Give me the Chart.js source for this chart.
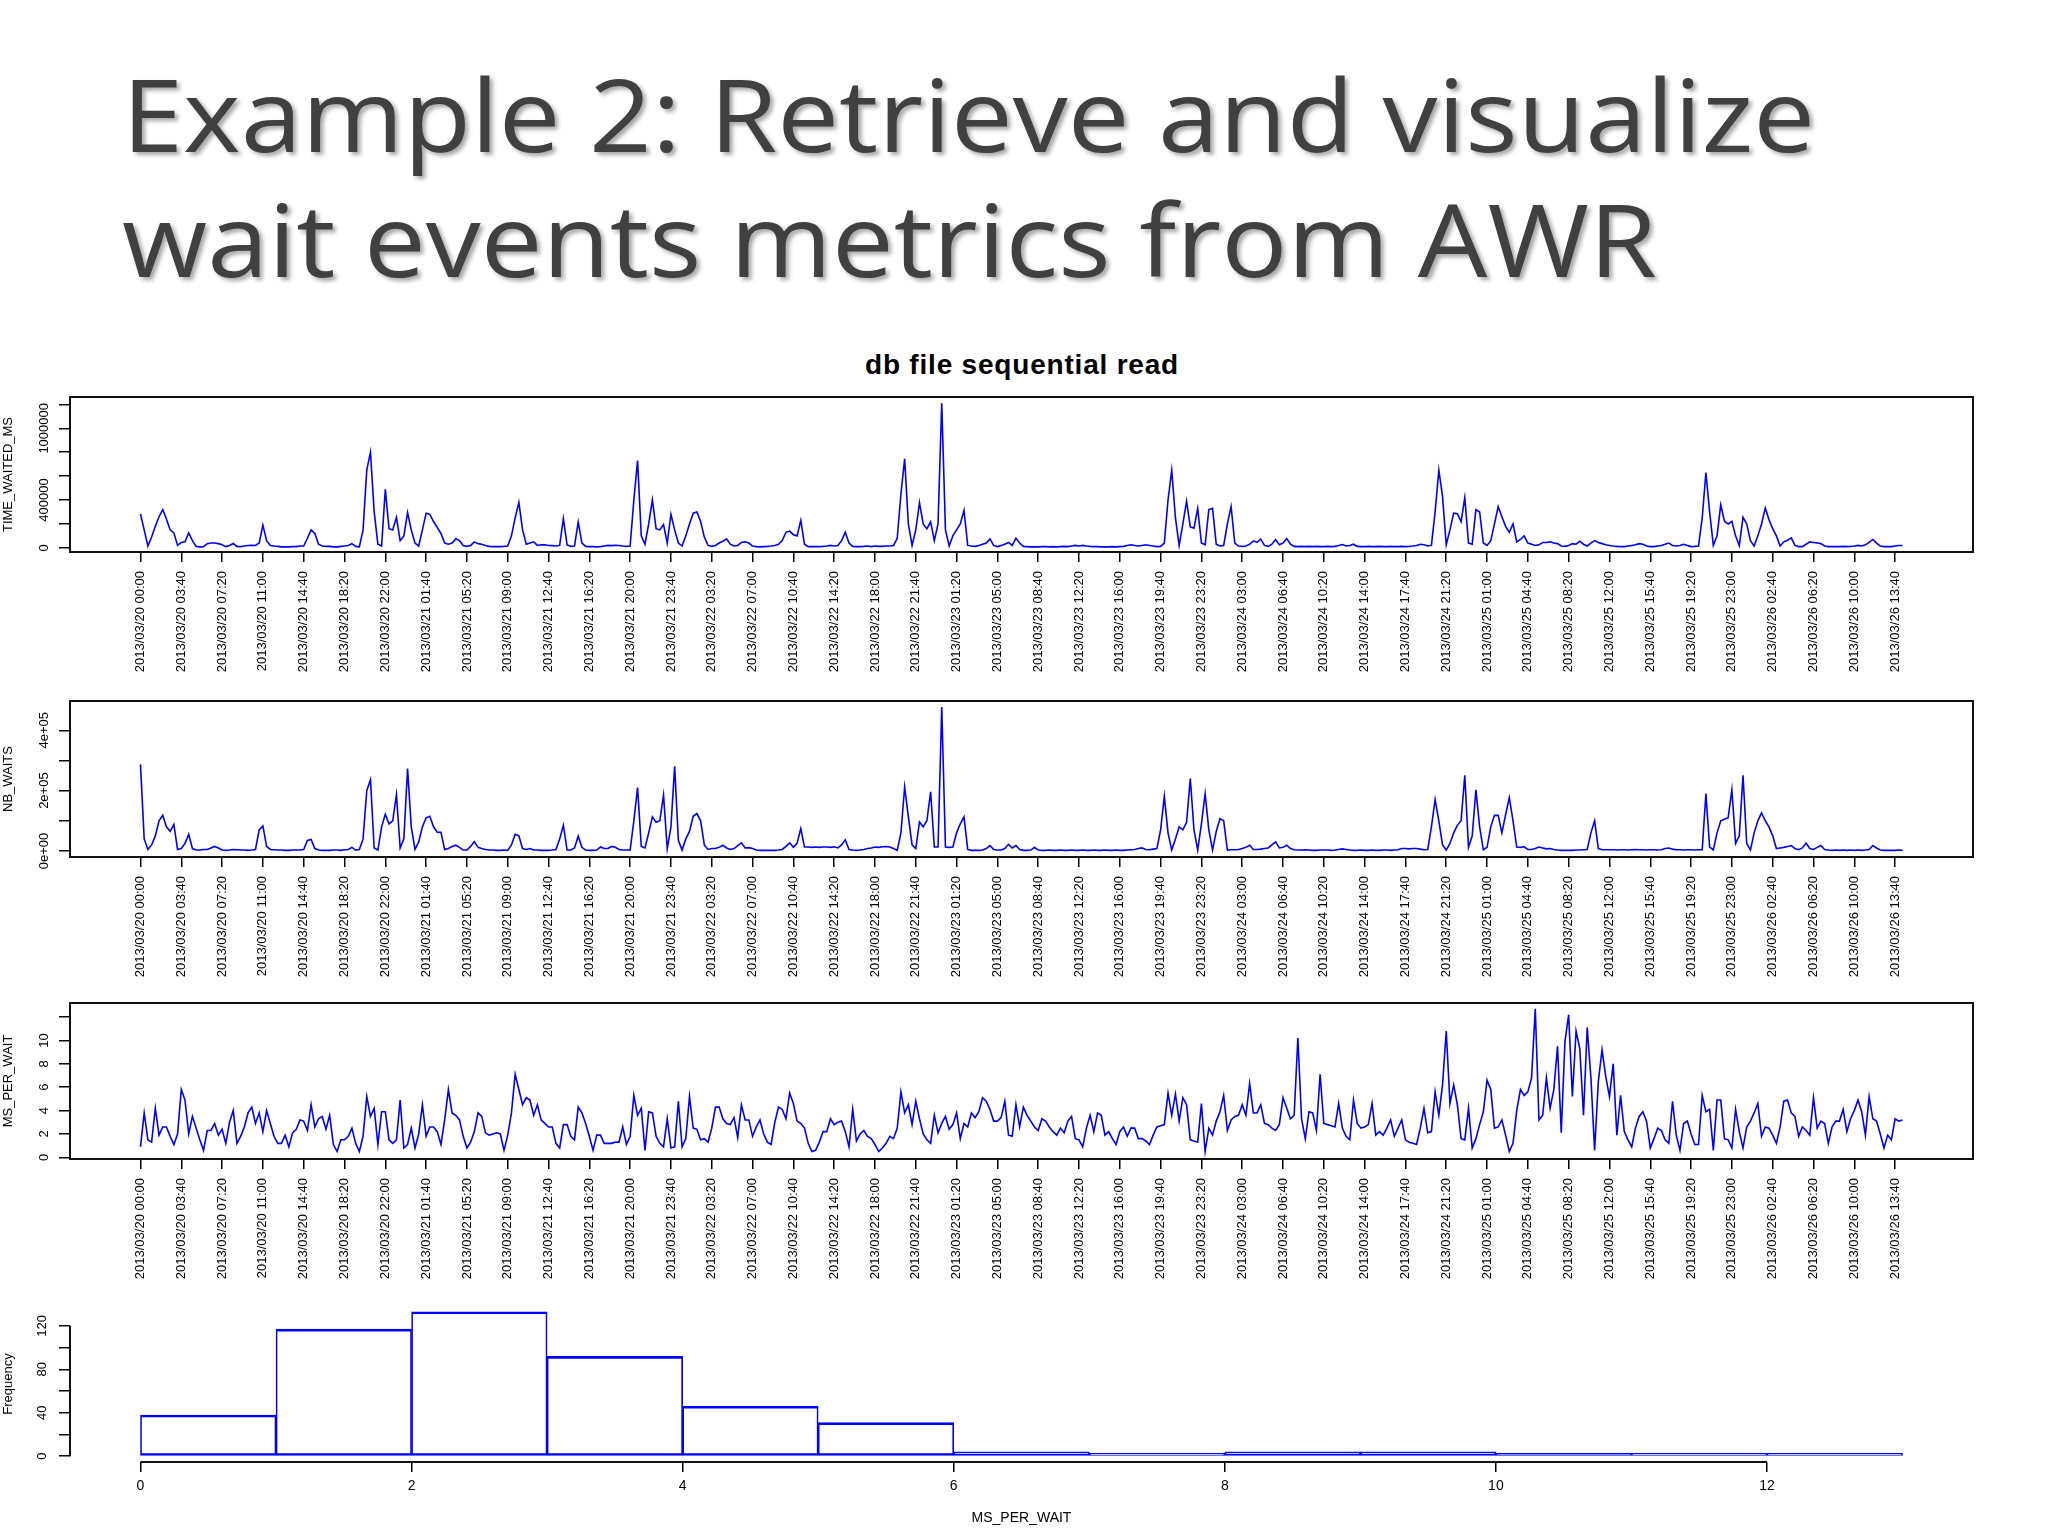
<!DOCTYPE html>
<html>
<head>
<meta charset="utf-8">
<script src="https://cdn.jsdelivr.net/npm/chart.js@4.4.0/dist/chart.umd.min.js"></script>
<style>
  html, body { margin: 0; padding: 0; background: #fff; }
  body { width: 2048px; height: 1536px; position: relative; overflow: hidden; font-family: "Liberation Sans", Arial, sans-serif; }
  .slide-title { position: absolute; left: 122px; font-family: "Open Sans", sans-serif; font-size: 100px; line-height: 1; color: #404040; text-shadow: 3px 3px 4px rgba(0,0,0,0.35); white-space: nowrap; transform: scaleX(1.1); transform-origin: 0 0; }
  #t1 { top: 63px; }
  #t2 { top: 188px; }
  #plotTitle { position: absolute; left: 0; width: 2044px; top: 349px; text-align: center; font-weight: bold; font-size: 28px; color: #000; letter-spacing: 0.8px; }
  canvas { position: absolute; left: 0; }
</style>
</head>
<body>
<div class="slide-title" id="t1">Example 2: Retrieve and visualize</div>
<div class="slide-title" id="t2">wait events metrics from AWR</div>
<div id="plotTitle">db file sequential read</div>
<canvas id="c1" width="2048" height="300" style="top:380px"></canvas>
<canvas id="c2" width="2048" height="300" style="top:684px"></canvas>
<canvas id="c3" width="2048" height="300" style="top:986px"></canvas>
<canvas id="c4" width="2048" height="246" style="top:1290px"></canvas>
<script>
// AWR snapshots, one every 20 minutes, 2013/03/20 00:00 .. 2013/03/26 14:20
const tickLabels = [
  "2013/03/20 00:00", "2013/03/20 03:40", "2013/03/20 07:20", "2013/03/20 11:00",
  "2013/03/20 14:40", "2013/03/20 18:20", "2013/03/20 22:00", "2013/03/21 01:40",
  "2013/03/21 05:20", "2013/03/21 09:00", "2013/03/21 12:40", "2013/03/21 16:20",
  "2013/03/21 20:00", "2013/03/21 23:40", "2013/03/22 03:20", "2013/03/22 07:00",
  "2013/03/22 10:40", "2013/03/22 14:20", "2013/03/22 18:00", "2013/03/22 21:40",
  "2013/03/23 01:20", "2013/03/23 05:00", "2013/03/23 08:40", "2013/03/23 12:20",
  "2013/03/23 16:00", "2013/03/23 19:40", "2013/03/23 23:20", "2013/03/24 03:00",
  "2013/03/24 06:40", "2013/03/24 10:20", "2013/03/24 14:00", "2013/03/24 17:40",
  "2013/03/24 21:20", "2013/03/25 01:00", "2013/03/25 04:40", "2013/03/25 08:20",
  "2013/03/25 12:00", "2013/03/25 15:40", "2013/03/25 19:20", "2013/03/25 23:00",
  "2013/03/26 02:40", "2013/03/26 06:20", "2013/03/26 10:00", "2013/03/26 13:40"
];
const ticksEvery = 11; // one label every 11 snapshots (3h40)

const timeWaitedMs = [
  283000, 150000, 15000, 90000, 180000, 260000, 320000, 240000, 150000, 125000, 20000,
  45000, 50000, 125000, 60000, 12000, 8000, 10000, 35000, 40000, 40000, 35000,
  25000, 10000, 20000, 36000, 12000, 10000, 15000, 20000, 22000, 20000, 40000,
  190000, 60000, 20000, 15000, 12000, 8000, 8000, 8000, 10000, 10000, 15000,
  15000, 80000, 150000, 120000, 30000, 15000, 12000, 12000, 8000, 8000, 12000,
  15000, 20000, 35000, 12000, 8000, 150000, 650000, 800000, 300000, 30000, 15000,
  490000, 160000, 150000, 255000, 60000, 100000, 295000, 150000, 40000, 15000, 150000,
  290000, 280000, 220000, 170000, 120000, 40000, 30000, 40000, 75000, 60000, 20000,
  12000, 20000, 50000, 35000, 30000, 20000, 12000, 10000, 10000, 10000, 12000,
  15000, 100000, 250000, 380000, 150000, 30000, 40000, 50000, 20000, 25000, 25000,
  20000, 18000, 15000, 20000, 245000, 25000, 12000, 15000, 215000, 40000, 12000,
  10000, 10000, 8000, 10000, 15000, 20000, 18000, 22000, 20000, 15000, 12000,
  15000, 400000, 730000, 100000, 30000, 200000, 400000, 160000, 150000, 195000, 40000,
  280000, 150000, 40000, 15000, 100000, 200000, 290000, 300000, 220000, 90000, 20000,
  12000, 20000, 40000, 55000, 75000, 30000, 15000, 20000, 45000, 50000, 40000,
  15000, 10000, 8000, 10000, 12000, 15000, 20000, 30000, 60000, 130000, 140000,
  110000, 100000, 230000, 30000, 10000, 10000, 10000, 10000, 12000, 15000, 20000,
  15000, 20000, 60000, 130000, 40000, 12000, 10000, 10000, 12000, 15000, 10000,
  15000, 12000, 12000, 15000, 15000, 20000, 80000, 450000, 745000, 200000, 20000,
  150000, 378000, 200000, 160000, 217000, 60000, 200000, 1210000, 150000, 15000, 100000,
  150000, 200000, 314000, 20000, 15000, 12000, 20000, 30000, 40000, 75000, 20000,
  10000, 20000, 30000, 45000, 20000, 80000, 40000, 12000, 10000, 8000, 8000,
  8000, 10000, 10000, 8000, 10000, 8000, 10000, 12000, 10000, 15000, 20000,
  15000, 20000, 15000, 12000, 10000, 10000, 8000, 8000, 8000, 10000, 8000,
  10000, 12000, 20000, 25000, 20000, 15000, 20000, 25000, 20000, 15000, 10000,
  12000, 40000, 400000, 650000, 250000, 20000, 200000, 390000, 175000, 165000, 330000,
  40000, 25000, 320000, 330000, 30000, 15000, 20000, 200000, 345000, 40000, 15000,
  12000, 15000, 30000, 58000, 45000, 72000, 20000, 12000, 30000, 69000, 25000,
  40000, 78000, 30000, 12000, 10000, 12000, 10000, 12000, 10000, 12000, 10000,
  10000, 12000, 10000, 12000, 20000, 28000, 15000, 20000, 30000, 12000, 10000,
  10000, 12000, 10000, 10000, 12000, 10000, 10000, 12000, 10000, 10000, 12000,
  10000, 12000, 15000, 20000, 30000, 25000, 15000, 20000, 300000, 650000, 430000,
  25000, 150000, 290000, 285000, 220000, 420000, 40000, 30000, 320000, 300000, 40000,
  20000, 60000, 200000, 345000, 260000, 180000, 130000, 200000, 50000, 70000, 100000,
  40000, 30000, 20000, 25000, 45000, 45000, 50000, 40000, 35000, 15000, 12000,
  20000, 35000, 30000, 55000, 30000, 15000, 40000, 60000, 45000, 35000, 25000,
  20000, 15000, 12000, 10000, 10000, 15000, 20000, 25000, 35000, 30000, 15000,
  10000, 10000, 15000, 20000, 30000, 40000, 20000, 15000, 20000, 30000, 20000,
  10000, 12000, 15000, 250000, 630000, 300000, 20000, 100000, 360000, 222000, 200000,
  222000, 100000, 20000, 255000, 200000, 60000, 15000, 100000, 200000, 333000, 236000,
  160000, 100000, 15000, 50000, 64000, 83000, 20000, 10000, 10000, 30000, 50000,
  45000, 40000, 35000, 15000, 10000, 10000, 10000, 10000, 12000, 10000, 12000,
  15000, 20000, 15000, 25000, 45000, 70000, 40000, 15000, 10000, 10000, 10000,
  15000, 20000, 20000
];

const nbWaits = [
  287000, 40000, 5000, 20000, 50000, 100000, 118000, 80000, 65000, 88000, 5000,
  8000, 25000, 55000, 8000, 3000, 3000, 5000, 5000, 10000, 15000, 10000,
  3000, 2000, 3000, 5000, 4000, 3000, 3000, 2000, 3000, 5000, 70000,
  83000, 15000, 5000, 4000, 3000, 3000, 2000, 2000, 3000, 3000, 3000,
  5000, 35000, 38000, 8000, 3000, 2000, 2000, 2000, 3000, 3000, 2000,
  4000, 5000, 12000, 3000, 5000, 40000, 200000, 236000, 10000, 3000, 80000,
  122000, 90000, 100000, 187000, 10000, 40000, 273000, 80000, 5000, 30000, 80000,
  110000, 115000, 80000, 62000, 62000, 5000, 8000, 15000, 19000, 12000, 3000,
  3000, 15000, 31000, 12000, 8000, 5000, 3000, 3000, 2000, 2000, 3000,
  2000, 20000, 55000, 50000, 8000, 5000, 8000, 3000, 3000, 2000, 2000,
  2000, 3000, 5000, 40000, 85000, 3000, 3000, 10000, 49000, 12000, 3000,
  2000, 2000, 3000, 13000, 8000, 8000, 15000, 12000, 5000, 3000, 3000,
  3000, 100000, 210000, 15000, 10000, 60000, 113000, 95000, 100000, 185000, 8000,
  80000, 281000, 35000, 3000, 40000, 65000, 115000, 124000, 100000, 20000, 5000,
  8000, 8000, 12000, 19000, 10000, 5000, 8000, 18000, 27000, 10000, 11000,
  8000, 3000, 2000, 2000, 2000, 2000, 2000, 3000, 5000, 15000, 27000,
  12000, 25000, 74000, 13000, 13000, 12000, 13000, 12000, 13000, 13000, 12000,
  14000, 10000, 20000, 37000, 5000, 3000, 2000, 3000, 5000, 8000, 10000,
  13000, 12000, 14000, 15000, 13000, 8000, 2000, 60000, 212000, 113000, 20000,
  8000, 96000, 80000, 100000, 196000, 13000, 13000, 477000, 13000, 12000, 13000,
  60000, 90000, 113000, 5000, 2000, 2000, 2000, 3000, 8000, 18000, 5000,
  3000, 3000, 8000, 22000, 10000, 18000, 5000, 2000, 2000, 3000, 12000,
  3000, 2000, 2000, 3000, 2000, 2000, 3000, 2000, 2000, 3000, 2000,
  2000, 3000, 2000, 2000, 3000, 2000, 2000, 3000, 2000, 2000, 3000,
  2000, 2000, 3000, 4000, 5000, 8000, 10000, 5000, 4000, 6000, 8000,
  70000, 181000, 60000, 3000, 40000, 80000, 70000, 95000, 240000, 70000, 3000,
  90000, 190000, 70000, 3000, 65000, 107000, 100000, 3000, 4000, 4000, 5000,
  8000, 12000, 19000, 5000, 5000, 6000, 8000, 10000, 20000, 30000, 10000,
  12000, 19000, 8000, 4000, 3000, 3000, 4000, 3000, 2000, 2000, 3000,
  3000, 3000, 2000, 3000, 5000, 7000, 5000, 3000, 2000, 2000, 3000,
  2000, 2000, 3000, 2000, 2000, 3000, 3000, 2000, 3000, 4000, 8000,
  8000, 7000, 8000, 8000, 6000, 4000, 5000, 80000, 170000, 100000, 20000,
  3000, 25000, 60000, 85000, 100000, 251000, 12000, 50000, 203000, 80000, 4000,
  12000, 80000, 118000, 118000, 60000, 120000, 177000, 100000, 13000, 12000, 14000,
  5000, 5000, 8000, 13000, 10000, 7000, 8000, 5000, 3000, 2000, 2000,
  2000, 2000, 3000, 3000, 4000, 5000, 60000, 100000, 8000, 4000, 4000,
  4000, 4000, 3000, 4000, 4000, 3000, 4000, 5000, 4000, 4000, 3000,
  4000, 4000, 3000, 4000, 8000, 10000, 6000, 4000, 4000, 3000, 4000,
  4000, 3000, 4000, 4000, 190000, 13000, 4000, 60000, 100000, 105000, 110000,
  203000, 25000, 50000, 251000, 25000, 3000, 60000, 100000, 126000, 100000, 80000,
  50000, 8000, 10000, 12000, 15000, 18000, 8000, 4000, 10000, 26000, 8000,
  5000, 12000, 18000, 5000, 3000, 2000, 3000, 2000, 3000, 2000, 3000,
  2000, 3000, 2000, 3000, 5000, 18000, 10000, 3000, 2000, 2000, 2000,
  2000, 3000, 2000
];

const msPerWait = [
  0.9, 3.8, 1.5, 1.3, 4.2, 1.9, 2.6, 2.6, 1.8, 1.1, 2.0,
  5.8, 4.9, 2.0, 3.5, 2.5, 1.5, 0.6, 2.3, 2.3, 2.9, 1.9,
  2.4, 1.2, 3.0, 4.0, 1.2, 1.8, 2.6, 3.8, 4.3, 2.9, 3.8,
  2.2, 4.0, 2.9, 1.8, 1.2, 1.2, 1.9, 0.9, 2.1, 2.4, 3.2,
  3.1, 2.3, 4.5, 2.6, 3.3, 3.5, 2.4, 3.6, 1.1, 0.5, 1.5,
  1.5, 1.8, 2.5, 1.2, 0.5, 1.8, 5.2, 3.5, 4.2, 1.1, 3.9,
  3.9, 1.5, 1.2, 1.5, 4.9, 0.8, 1.1, 2.5, 0.8, 2.0, 4.5,
  1.8, 2.6, 2.6, 2.2, 1.1, 3.2, 5.8, 3.8, 3.6, 3.2, 1.8,
  0.8, 1.3, 2.2, 3.8, 3.5, 2.1, 1.9, 2.0, 2.1, 2.0, 0.6,
  1.9, 3.8, 7.1, 5.8, 4.5, 5.1, 4.9, 3.6, 4.5, 3.2, 2.9,
  2.6, 2.6, 1.2, 0.8, 2.8, 2.8, 1.8, 1.5, 4.3, 3.8, 2.9,
  1.8, 0.6, 1.9, 1.9, 1.2, 1.2, 1.2, 1.3, 1.3, 2.6, 1.1,
  1.8, 5.3, 3.6, 4.2, 0.6, 3.9, 3.8, 1.8, 1.2, 0.9, 3.3,
  0.8, 0.9, 4.8, 0.9, 1.6, 5.2, 2.5, 2.4, 1.5, 1.6, 1.3,
  2.5, 4.3, 4.3, 3.3, 2.9, 2.8, 3.4, 1.7, 4.5, 3.2, 3.2,
  1.8, 2.6, 3.2, 2.0, 1.3, 1.1, 3.0, 4.3, 4.1, 3.3, 5.5,
  4.6, 3.1, 2.9, 2.5, 1.2, 0.5, 0.6, 1.3, 2.2, 2.2, 3.3,
  2.8, 3.0, 3.1, 2.2, 0.9, 4.1, 1.4, 2.0, 2.3, 1.8, 1.6,
  1.1, 0.5, 0.8, 1.2, 1.8, 1.6, 2.5, 5.6, 3.8, 4.5, 2.8,
  4.8, 3.3, 2.0, 1.5, 1.2, 3.6, 2.1, 2.9, 3.5, 2.4, 2.8,
  3.8, 1.6, 2.9, 2.6, 3.8, 3.4, 3.9, 5.1, 4.8, 4.1, 3.1,
  3.1, 3.4, 4.8, 1.9, 1.8, 4.5, 2.6, 4.3, 3.6, 3.1, 2.6,
  2.3, 3.3, 3.1, 2.6, 2.2, 1.9, 2.5, 2.1, 3.1, 3.5, 1.6,
  1.5, 0.9, 2.5, 3.6, 2.2, 3.8, 3.6, 1.9, 2.2, 1.6, 1.1,
  2.2, 2.6, 1.8, 2.5, 2.5, 1.6, 1.6, 1.4, 1.1, 1.9, 2.6,
  2.7, 2.8, 5.5, 3.6, 5.4, 3.1, 5.1, 4.5, 1.5, 1.4, 1.3,
  4.6, 0.5, 2.5, 1.9, 3.1, 3.9, 5.3, 2.3, 3.2, 3.5, 3.6,
  4.5, 3.6, 6.3, 3.8, 3.8, 4.5, 2.9, 2.8, 2.5, 2.3, 2.8,
  5.1, 4.2, 3.3, 3.6, 10.2, 3.3, 1.6, 3.9, 3.8, 2.3, 7.1,
  2.9, 2.8, 2.7, 2.6, 4.6, 2.5, 1.8, 1.5, 4.9, 2.9, 2.5,
  2.6, 2.8, 4.6, 1.9, 2.2, 1.9, 2.5, 3.2, 1.8, 2.5, 3.2,
  1.5, 1.3, 1.2, 1.1, 2.5, 4.2, 2.1, 2.2, 5.6, 3.6, 6.2,
  10.8, 4.6, 6.2, 4.5, 1.6, 1.5, 4.2, 0.8, 1.6, 2.8, 3.9,
  6.6, 5.8, 2.5, 2.6, 3.2, 1.9, 0.5, 1.2, 4.0, 5.8, 5.3,
  5.6, 6.8, 12.7, 3.2, 3.6, 6.8, 4.2, 5.8, 9.5, 2.1, 9.9,
  12.2, 5.2, 10.8, 9.3, 3.6, 11.1, 6.8, 0.6, 6.5, 9.2, 6.9,
  5.2, 8.0, 1.9, 5.3, 2.2, 1.5, 0.9, 2.5, 3.5, 3.9, 3.1,
  0.8, 1.6, 2.5, 2.3, 1.5, 1.2, 4.8, 1.9, 0.6, 2.9, 3.1,
  2.0, 1.1, 1.1, 5.3, 3.9, 4.1, 0.6, 4.9, 4.9, 1.6, 1.5,
  0.8, 4.1, 2.2, 0.8, 2.6, 3.1, 3.8, 4.6, 1.8, 2.6, 2.5,
  1.9, 1.2, 2.6, 4.8, 4.9, 3.8, 3.5, 1.8, 2.6, 2.3, 1.9,
  5.1, 2.5, 3.1, 2.9, 1.2, 2.6, 3.1, 3.1, 4.1, 2.2, 3.3,
  4.0, 4.9, 3.9, 1.9, 5.2, 3.3, 3.1, 2.0, 0.8, 1.9, 1.5,
  3.3, 3.1, 3.2
];

// y axis ticks (R drops labels that would overlap)
const twYTicks = [0, 200000, 400000, 600000, 800000, 1000000, 1200000];
const twYLabels = ["0", "", "400000", "", "", "1000000", ""];
const nbYTicks = [0, 100000, 200000, 300000, 400000];
const nbYLabels = ["0e+00", "", "2e+05", "", "4e+05"];
const mpwYTicks = [0, 2, 4, 6, 8, 10, 12];
const mpwYLabels = ["0", "2", "4", "6", "8", "10", ""];

// histogram of MS_PER_WAIT
const histBinEdges = [0, 1, 2, 3, 4, 5, 6, 7, 8, 9, 10, 11, 12, 13];
const histCounts = [38, 117, 133, 92, 46, 31, 4, 1, 4, 4, 3, 1, 1];
const histXTicks = [0, 2, 4, 6, 8, 10, 12];
const histYTicks = [0, 20, 40, 60, 80, 100, 120];
const histYLabels = ["0", "", "40", "", "80", "", "120"];

Chart.defaults.font.family = '"Liberation Sans", Arial, sans-serif';
Chart.defaults.color = "#000";

// R-like decorations: box, axis lines that span first..last tick, rotated y labels
const rFrame = {
  id: "rFrame",
  afterDraw(chart, args, opts) {
    const { ctx, chartArea: a, scales } = chart;
    const xs = scales.x, ys = scales.y;
    ctx.save();
    ctx.strokeStyle = "#111";
    ctx.lineWidth = 2;
    if (opts.box) {
      ctx.strokeRect(a.left, a.top, a.right - a.left, a.bottom - a.top);
    } else {
      ctx.beginPath();
      ctx.moveTo(xs.getPixelForValue(opts.xTicks[0]), a.bottom);
      ctx.lineTo(xs.getPixelForValue(opts.xTicks[opts.xTicks.length - 1]), a.bottom);
      ctx.moveTo(a.left, ys.getPixelForValue(opts.yTicks[0]));
      ctx.lineTo(a.left, ys.getPixelForValue(opts.yTicks[opts.yTicks.length - 1]));
      ctx.stroke();
    }
    ctx.fillStyle = "#000";
    ctx.font = '13px "Liberation Sans", Arial, sans-serif';
    ctx.textAlign = "center";
    ctx.textBaseline = "middle";
    opts.yLabels.forEach((lab, i) => {
      if (!lab) return;
      const py = ys.getPixelForValue(opts.yTicks[i]);
      ctx.save();
      ctx.translate(opts.labelX, py);
      ctx.rotate(-Math.PI / 2);
      ctx.fillText(lab, 0, 0);
      ctx.restore();
    });
    ctx.restore();
  }
};

function yAxis(min, max, ticks, title) {
  return {
    type: "linear",
    min: min,
    max: max,
    afterBuildTicks: s => { s.ticks = ticks.map(v => ({ value: v })); },
    afterFit: s => { s.width = 70; },
    ticks: { display: false },
    grid: { drawOnChartArea: false, drawTicks: true, tickLength: 11, color: "#000", lineWidth: 1.5 },
    border: { display: false },
    title: { display: true, text: title, font: { size: 13 }, padding: { top: 1, bottom: 0 } }
  };
}

function timePanel(id, values, yMin, yMax, yTicks, yLabels, yTitle, xHeight) {
  return new Chart(document.getElementById(id), {
    type: "line",
    data: {
      datasets: [{
        data: values.map((v, i) => ({ x: i, y: v })),
        borderColor: "#0000ff",
        borderWidth: 1.6,
        pointRadius: 0,
        tension: 0,
        fill: false
      }]
    },
    options: {
      responsive: false,
      animation: false,
      devicePixelRatio: 1,
      layout: { padding: { top: 17, right: 75, left: 0, bottom: 0 } },
      plugins: {
        legend: { display: false },
        tooltip: { enabled: false },
        rFrame: { box: true, yTicks: yTicks, yLabels: yLabels, labelX: 44 }
      },
      scales: {
        x: {
          type: "linear",
          min: -19,
          max: values.length - 1 + 19,
          afterBuildTicks: s => { s.ticks = tickLabels.map((t, i) => ({ value: i * ticksEvery })); },
          afterFit: s => { s.height = xHeight; },
          ticks: {
            autoSkip: false,
            minRotation: 90,
            maxRotation: 90,
            padding: 9,
            font: { size: 13 },
            callback: (v, i) => tickLabels[i]
          },
          grid: { drawOnChartArea: false, drawTicks: true, tickLength: 10, color: "#000", lineWidth: 1.5 },
          border: { display: false }
        },
        y: yAxis(yMin, yMax, yTicks, yTitle)
      }
    },
    plugins: [rFrame]
  });
}

timePanel("c1", timeWaitedMs, -35000, 1262000, twYTicks, twYLabels, "TIME_WAITED_MS", 128);
timePanel("c2", nbWaits, -20000, 497000, nbYTicks, nbYLabels, "NB_WAITS", 127);
timePanel("c3", msPerWait, -0.14, 13.2, mpwYTicks, mpwYLabels, "MS_PER_WAIT", 127);

new Chart(document.getElementById("c4"), {
  type: "bar",
  data: {
    datasets: [{
      data: histCounts.map((c, i) => ({ x: (histBinEdges[i] + histBinEdges[i + 1]) / 2, y: c })),
      backgroundColor: "rgba(0,0,0,0)",
      borderColor: "#0000ff",
      borderWidth: { top: 2, bottom: 2, left: 1, right: 1 },
      borderSkipped: false,
      minBarLength: 3,
      barPercentage: 1,
      categoryPercentage: 1
    }]
  },
  options: {
    responsive: false,
    animation: false,
    devicePixelRatio: 1,
    layout: { padding: { top: 16, right: 75, left: 0, bottom: 0 } },
    plugins: {
      legend: { display: false },
      tooltip: { enabled: false },
      rFrame: { box: false, xTicks: histXTicks, yTicks: histYTicks, yLabels: histYLabels, labelX: 42 }
    },
    scales: {
      x: {
        type: "linear",
        offset: false,
        min: -0.52,
        max: 13.52,
        afterBuildTicks: s => { s.ticks = histXTicks.map(v => ({ value: v })); },
        afterFit: s => { s.height = 74; },
        ticks: { autoSkip: false, maxRotation: 0, padding: 6, font: { size: 14 }, callback: v => String(v) },
        grid: { offset: false, drawOnChartArea: false, drawTicks: true, tickLength: 10, color: "#000", lineWidth: 1.5 },
        border: { display: false },
        title: { display: true, text: "MS_PER_WAIT", font: { size: 14 }, padding: { top: 0, bottom: 9 } }
      },
      y: yAxis(-5.3, 138.3, histYTicks, "Frequency")
    }
  },
  plugins: [rFrame]
});
</script>
</body>
</html>
